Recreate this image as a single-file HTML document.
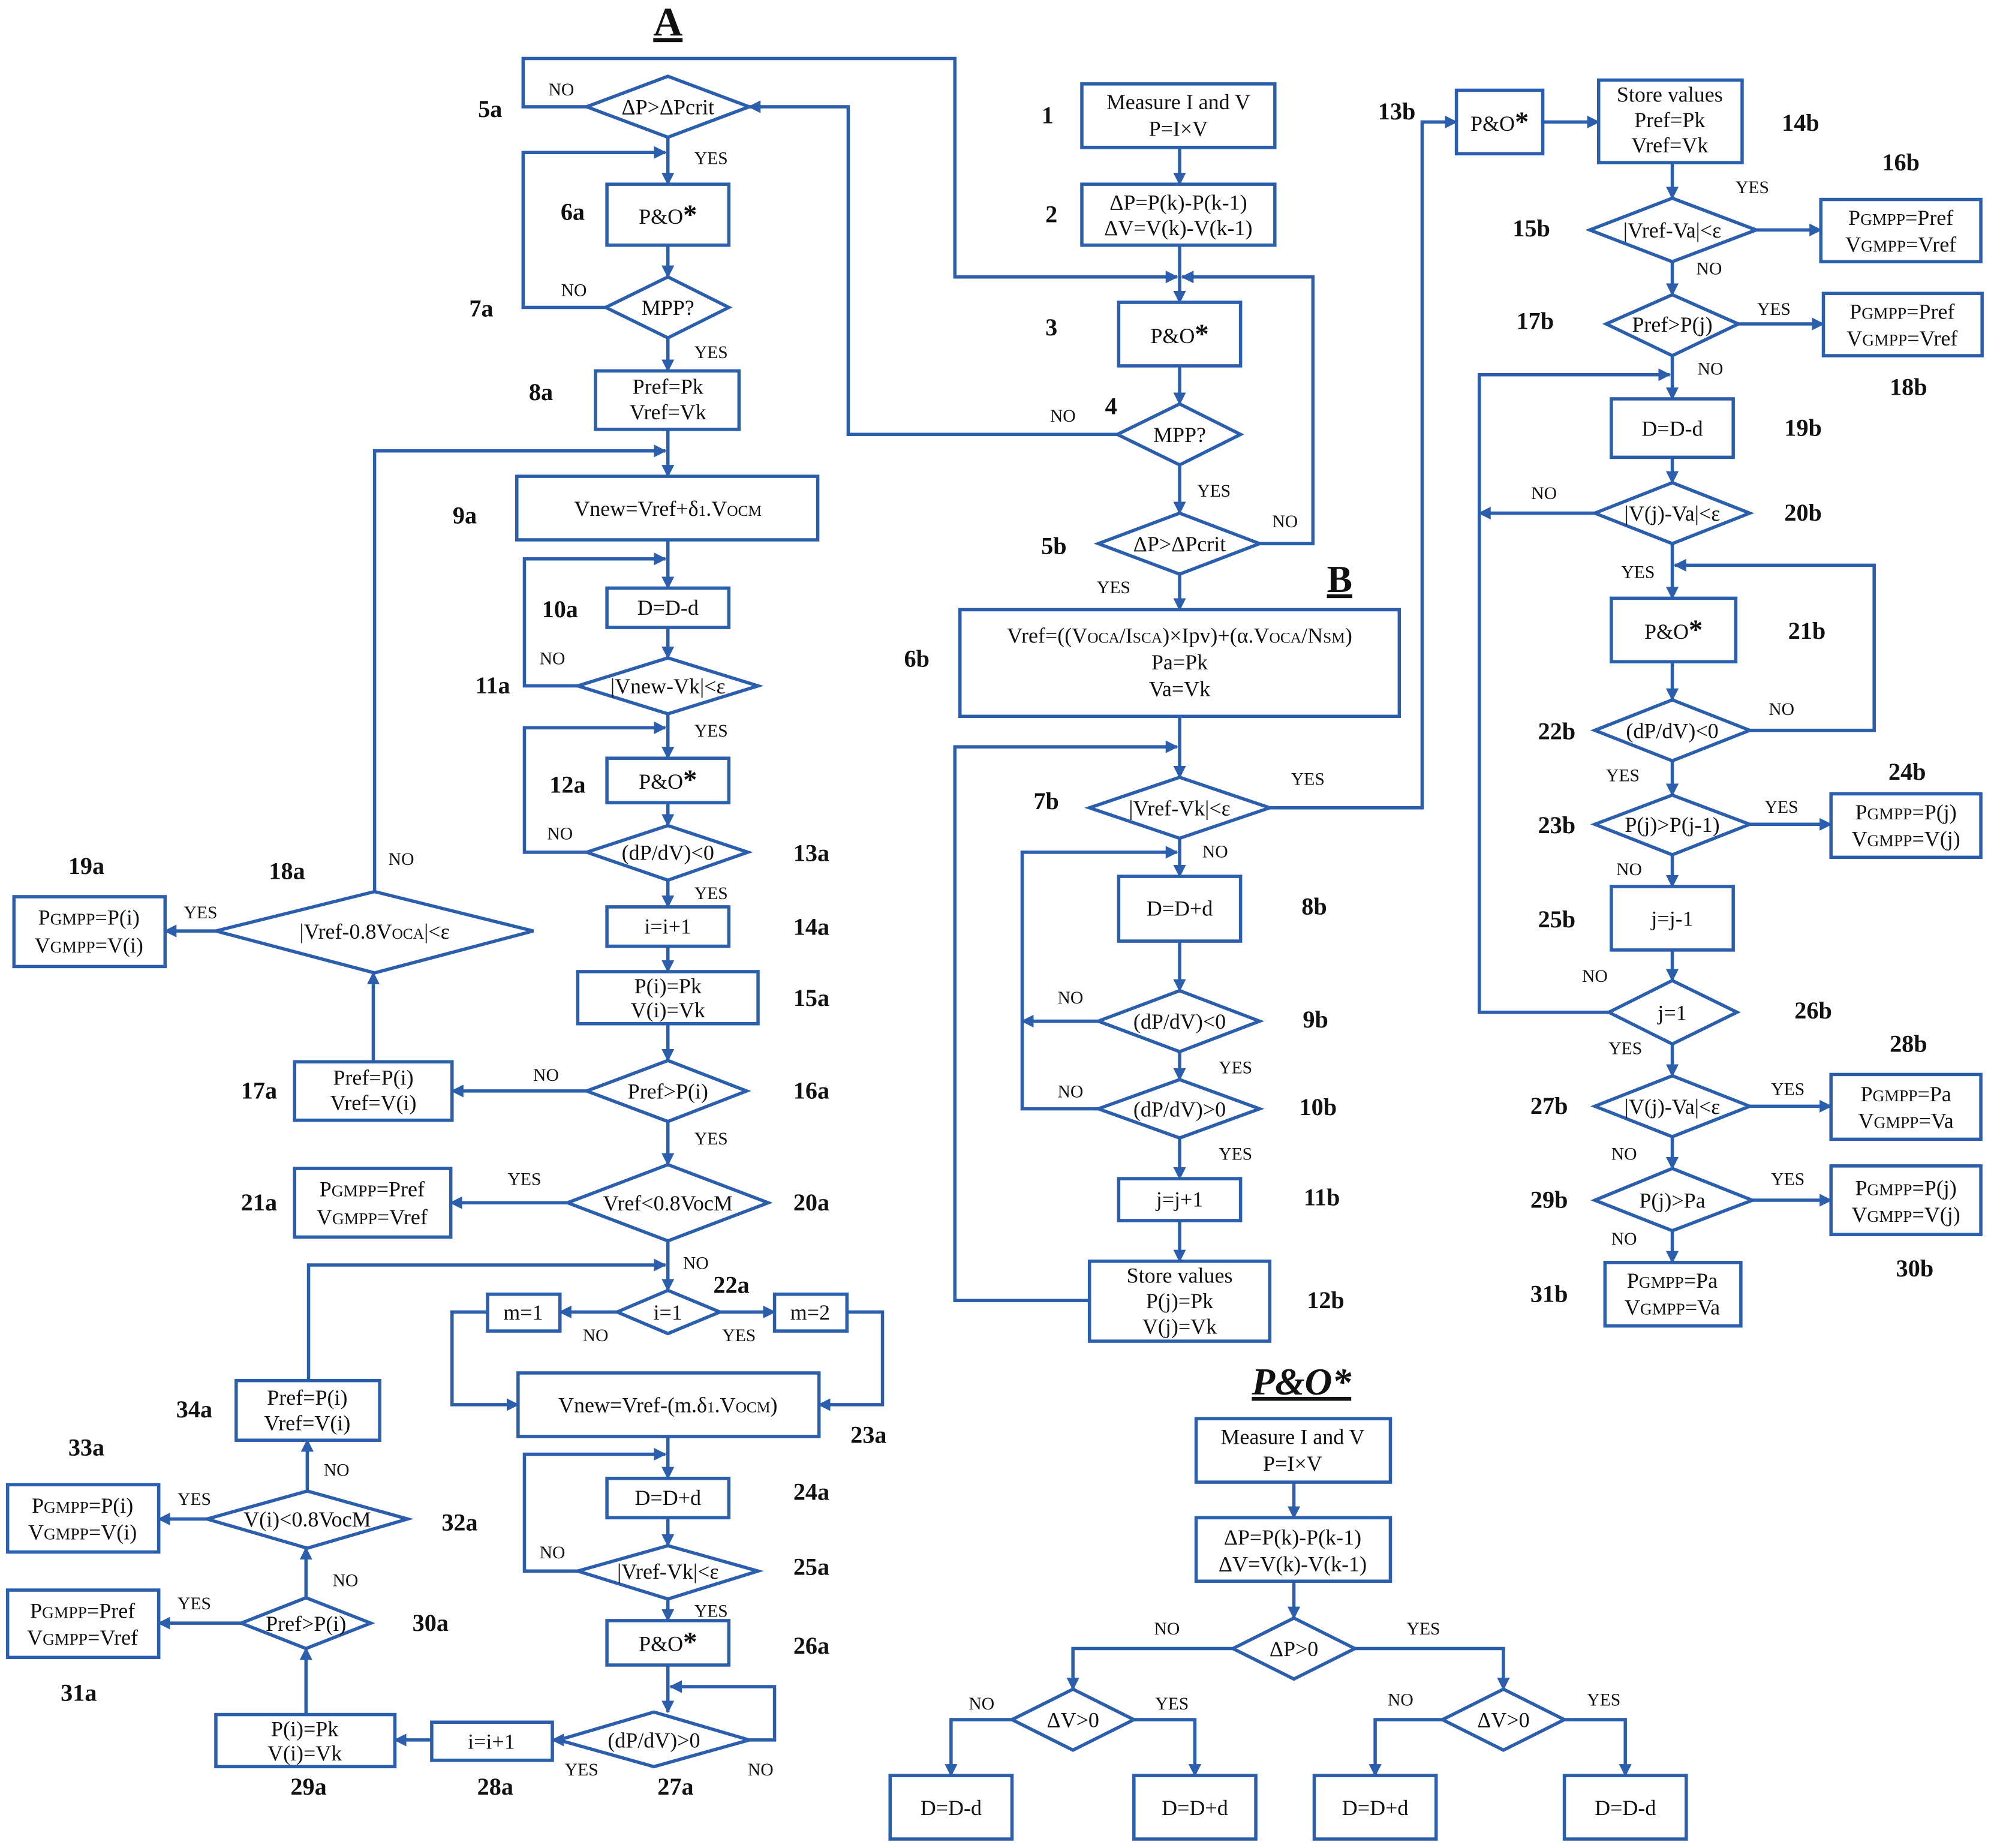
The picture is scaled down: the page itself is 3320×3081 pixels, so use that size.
<!DOCTYPE html>
<html><head><meta charset="utf-8"><style>
html,body{margin:0;padding:0;background:#fff}
svg{display:block}
.b{fill:#fff;stroke:#2b5fad;stroke-width:2.6}
.l{fill:none;stroke:#2b5fad;stroke-width:2.6;marker-end:url(#ar)}
.n{fill:none;stroke:#2b5fad;stroke-width:2.6}
text{font-family:"Liberation Serif",serif;fill:#111}
.t{font-size:17px;text-anchor:middle}
.y{font-size:14px;text-anchor:middle}
.g{font-size:19px;font-weight:bold;text-anchor:middle}
</style></head><body>
<svg width="3320" height="3081" viewBox="0 0 1568 1455" xmlns="http://www.w3.org/2000/svg">
<defs><marker id="ar" markerWidth="10" markerHeight="10" refX="9" refY="5" orient="auto" markerUnits="userSpaceOnUse"><path d="M0,0 L10,5 L0,10 z" fill="#2b5fad"/></marker></defs>

<!-- titles -->
<text x="526" y="28" style="font-size:32px;font-weight:bold;text-decoration:underline" text-anchor="middle">A</text>
<text x="1055" y="466" style="font-size:30px;font-weight:bold;text-decoration:underline" text-anchor="middle">B</text>
<text x="1025" y="1098" style="font-size:30px;font-weight:bold;font-style:italic;text-decoration:underline" text-anchor="middle">P&amp;O*</text>

<!-- ===== connectors A ===== -->
<polyline class="l" points="462,84 412,84 412,46 752,46 752,218 927,218"/>
<polyline class="l" points="526,108 526,145"/>
<polyline class="l" points="477,242 412,242 412,120 524,120"/>
<polyline class="l" points="526,193 526,218"/>
<polyline class="l" points="526,266 526,292"/>
<polyline class="l" points="526,338 526,375"/>
<polyline class="l" points="295,702 295,355 524,355"/>
<polyline class="l" points="526,425 526,463"/>
<polyline class="l" points="455,540 413,540 413,440 524,440"/>
<polyline class="l" points="526,494 526,518"/>
<polyline class="l" points="526,562 526,597"/>
<polyline class="l" points="462,671 413,671 413,573 524,573"/>
<polyline class="l" points="526,632 526,650"/>
<polyline class="l" points="526,693 526,714"/>
<polyline class="l" points="526,745 526,765"/>
<polyline class="l" points="526,806 526,835"/>
<polyline class="l" points="462,859 356,859"/>
<polyline class="l" points="294,836 294,766"/>
<polyline class="l" points="170,733 130,733"/>
<polyline class="l" points="526,883 526,917"/>
<polyline class="l" points="447,947 355,947"/>
<polyline class="l" points="526,977 526,1016"/>
<polyline class="l" points="243,1087 243,996 524,996"/>
<polyline class="l" points="486,1033 441,1033"/>
<polyline class="l" points="567,1033 610,1033"/>
<polyline class="l" points="384,1033 356,1033 356,1106 408,1106"/>
<polyline class="l" points="667,1033 695,1033 695,1106 645,1106"/>
<polyline class="l" points="526,1131 526,1164"/>
<polyline class="l" points="455,1237 413,1237 413,1145 524,1145"/>
<polyline class="l" points="526,1195 526,1217"/>
<polyline class="l" points="526,1259 526,1276"/>
<polyline class="l" points="526,1311 526,1348"/>
<polyline class="l" points="590,1370 610,1370 610,1328 528,1328"/>
<polyline class="l" points="440,1370 435,1370"/>
<polyline class="l" points="340,1370 311,1370"/>
<polyline class="l" points="241,1350 241,1298"/>
<polyline class="l" points="190,1278 125,1278"/>
<polyline class="l" points="241,1258 241,1219"/>
<polyline class="l" points="163,1196 125,1196"/>
<polyline class="l" points="242,1174 242,1134"/>

<!-- ===== connectors middle ===== -->
<polyline class="l" points="929,116 929,145"/>
<polyline class="l" points="929,193 929,238"/>
<polyline class="l" points="929,288 929,318"/>
<polyline class="l" points="880,342 668,342 668,84 590,84"/>
<polyline class="l" points="929,366 929,404"/>
<polyline class="l" points="992,428 1034,428 1034,218 931,218"/>
<polyline class="l" points="929,452 929,480"/>
<polyline class="l" points="929,564 929,612"/>
<polyline class="l" points="858,1024 752,1024 752,588 927,588"/>
<polyline class="l" points="1000,636 1120,636 1120,96 1147,96"/>
<polyline class="l" points="929,660 929,690"/>
<polyline class="l" points="865,873 805,873 805,671 927,671"/>
<polyline class="l" points="929,741 929,780"/>
<polyline class="l" points="865,804 805,804"/>
<polyline class="l" points="929,828 929,850"/>
<polyline class="l" points="929,896 929,928"/>
<polyline class="l" points="929,961 929,993"/>

<!-- ===== connectors right ===== -->
<polyline class="l" points="1215,96 1259,96"/>
<polyline class="l" points="1317,128 1317,156"/>
<polyline class="l" points="1383,181 1434,181"/>
<polyline class="l" points="1317,206 1317,232"/>
<polyline class="l" points="1369,255 1436,255"/>
<polyline class="l" points="1317,280 1317,314"/>
<polyline class="l" points="1267,797 1165,797 1165,295 1315,295"/>
<polyline class="l" points="1317,360 1317,380"/>
<polyline class="l" points="1256,404 1165,404"/>
<polyline class="l" points="1317,428 1317,471"/>
<polyline class="l" points="1378,575 1476,575 1476,445 1319,445"/>
<polyline class="l" points="1317,521 1317,551"/>
<polyline class="l" points="1317,599 1317,626"/>
<polyline class="l" points="1378,649 1442,649"/>
<polyline class="l" points="1317,673 1317,698"/>
<polyline class="l" points="1317,748 1317,772"/>
<polyline class="l" points="1317,822 1317,847"/>
<polyline class="l" points="1378,871 1442,871"/>
<polyline class="l" points="1317,895 1317,920"/>
<polyline class="l" points="1380,945 1442,945"/>
<polyline class="l" points="1317,969 1317,994"/>

<!-- ===== P&O* connectors ===== -->
<polyline class="l" points="1019,1167 1019,1195"/>
<polyline class="l" points="1019,1245 1019,1274"/>
<polyline class="l" points="971,1298 845,1298 845,1330"/>
<polyline class="l" points="1067,1298 1184,1298 1184,1330"/>
<polyline class="l" points="797,1354 749,1354 749,1398"/>
<polyline class="l" points="893,1354 941,1354 941,1398"/>
<polyline class="l" points="1136,1354 1083,1354 1083,1398"/>
<polyline class="l" points="1232,1354 1280,1354 1280,1398"/>

<!-- ===== shapes A ===== -->
<polygon class="b" points="462,84 526,60 590,84 526,108"/>
<text class="t" x="526" y="90">ΔP&gt;ΔPcrit</text>
<rect class="b" x="478" y="145" width="96" height="48"/>
<text class="t" x="526" y="176">P&amp;O<tspan style="font-size:22px;font-weight:bold">*</tspan></text>
<polygon class="b" points="477,242 526,218 574,242 526,266"/>
<text class="t" x="526" y="248">MPP?</text>
<rect class="b" x="469" y="292" width="113" height="46"/>
<text class="t" x="526" y="310">Pref=Pk</text><text class="t" x="526" y="330">Vref=Vk</text>
<rect class="b" x="407" y="375" width="237" height="50"/>
<text class="t" x="526" y="406">Vnew=Vref+δ<tspan style="font-size:12px">1</tspan>.V<tspan style="font-size:12px">OCM</tspan></text>
<rect class="b" x="478" y="463" width="96" height="31"/>
<text class="t" x="526" y="484">D=D-d</text>
<polygon class="b" points="455,540 526,518 597,540 526,562"/>
<text class="t" x="526" y="546">|Vnew-Vk|&lt;ε</text>
<rect class="b" x="478" y="597" width="96" height="35"/>
<text class="t" x="526" y="621">P&amp;O<tspan style="font-size:22px;font-weight:bold">*</tspan></text>
<polygon class="b" points="462,671 526,650 589,671 526,693"/>
<text class="t" x="526" y="677">(dP/dV)&lt;0</text>
<rect class="b" x="478" y="714" width="96" height="31"/>
<text class="t" x="526" y="735">i=i+1</text>
<rect class="b" x="455" y="765" width="142" height="41"/>
<text class="t" x="526" y="782">P(i)=Pk</text><text class="t" x="526" y="801">V(i)=Vk</text>
<polygon class="b" points="462,859 526,835 588,859 526,883"/>
<text class="t" x="526" y="865">Pref&gt;P(i)</text>
<polygon class="b" points="447,947 526,917 605,947 526,977"/>
<text class="t" x="526" y="953">Vref&lt;0.8VocM</text>
<polygon class="b" points="486,1033 526,1016 567,1033 526,1050"/>
<text class="t" x="526" y="1039">i=1</text>
<rect class="b" x="384" y="1019" width="57" height="29"/>
<text class="t" x="412" y="1039">m=1</text>
<rect class="b" x="610" y="1019" width="57" height="29"/>
<text class="t" x="638" y="1039">m=2</text>
<rect class="b" x="408" y="1081" width="237" height="50"/>
<text class="t" x="526" y="1112">Vnew=Vref-(m.δ<tspan style="font-size:12px">1</tspan>.V<tspan style="font-size:12px">OCM</tspan>)</text>
<rect class="b" x="478" y="1164" width="96" height="31"/>
<text class="t" x="526" y="1185">D=D+d</text>
<polygon class="b" points="455,1237 526,1217 597,1237 526,1259"/>
<text class="t" x="526" y="1243">|Vref-Vk|&lt;ε</text>
<rect class="b" x="478" y="1276" width="96" height="35"/>
<text class="t" x="526" y="1300">P&amp;O<tspan style="font-size:22px;font-weight:bold">*</tspan></text>
<polygon class="b" points="440,1370 515,1348 590,1370 515,1391"/>
<text class="t" x="515" y="1376">(dP/dV)&gt;0</text>
<rect class="b" x="340" y="1356" width="95" height="30"/>
<text class="t" x="387" y="1377">i=i+1</text>
<rect class="b" x="170" y="1350" width="141" height="41"/>
<text class="t" x="240" y="1367">P(i)=Pk</text><text class="t" x="240" y="1386">V(i)=Vk</text>
<polygon class="b" points="190,1278 241,1258 292,1278 241,1298"/>
<text class="t" x="241" y="1284">Pref&gt;P(i)</text>
<rect class="b" x="6" y="1252" width="119" height="53"/>
<text class="t" x="65" y="1274">P<tspan style="font-size:13px">GMPP</tspan>=Pref</text><text class="t" x="65" y="1295">V<tspan style="font-size:13px">GMPP</tspan>=Vref</text>
<polygon class="b" points="163,1196 242,1174 321,1196 242,1219"/>
<text class="t" x="242" y="1202">V(i)&lt;0.8VocM</text>
<rect class="b" x="6" y="1169" width="119" height="53"/>
<text class="t" x="65" y="1191">P<tspan style="font-size:13px">GMPP</tspan>=P(i)</text><text class="t" x="65" y="1212">V<tspan style="font-size:13px">GMPP</tspan>=V(i)</text>
<rect class="b" x="186" y="1087" width="113" height="47"/>
<text class="t" x="242" y="1106">Pref=P(i)</text><text class="t" x="242" y="1126">Vref=V(i)</text>
<rect class="b" x="232" y="836" width="124" height="46"/>
<text class="t" x="294" y="854">Pref=P(i)</text><text class="t" x="294" y="874">Vref=V(i)</text>
<polygon class="b" points="170,733 295,702 420,733 295,766"/>
<text class="t" x="295" y="739">|Vref-0.8V<tspan style="font-size:12px">OCA</tspan>|&lt;ε</text>
<rect class="b" x="11" y="706" width="119" height="55"/>
<text class="t" x="70" y="728">P<tspan style="font-size:13px">GMPP</tspan>=P(i)</text><text class="t" x="70" y="750">V<tspan style="font-size:13px">GMPP</tspan>=V(i)</text>
<rect class="b" x="232" y="920" width="123" height="54"/>
<text class="t" x="293" y="942">P<tspan style="font-size:13px">GMPP</tspan>=Pref</text><text class="t" x="293" y="964">V<tspan style="font-size:13px">GMPP</tspan>=Vref</text>

<!-- ===== shapes middle ===== -->
<rect class="b" x="852" y="66" width="152" height="50"/>
<text class="t" x="928" y="86">Measure I and V</text><text class="t" x="928" y="107">P=I×V</text>
<rect class="b" x="852" y="145" width="152" height="48"/>
<text class="t" x="928" y="165">ΔP=P(k)-P(k-1)</text><text class="t" x="928" y="185">ΔV=V(k)-V(k-1)</text>
<rect class="b" x="881" y="238" width="96" height="50"/>
<text class="t" x="929" y="270">P&amp;O<tspan style="font-size:22px;font-weight:bold">*</tspan></text>
<polygon class="b" points="880,342 929,318 977,342 929,366"/>
<text class="t" x="929" y="348">MPP?</text>
<polygon class="b" points="865,428 929,404 992,428 929,452"/>
<text class="t" x="929" y="434">ΔP&gt;ΔPcrit</text>
<rect class="b" x="756" y="480" width="346" height="84"/>
<text class="t" x="929" y="506">Vref=((V<tspan style="font-size:12px">OCA</tspan>/I<tspan style="font-size:12px">SCA</tspan>)×Ipv)+(α.V<tspan style="font-size:12px">OCA</tspan>/N<tspan style="font-size:12px">SM</tspan>)</text>
<text class="t" x="929" y="527">Pa=Pk</text><text class="t" x="929" y="548">Va=Vk</text>
<polygon class="b" points="858,636 929,612 1000,636 929,660"/>
<text class="t" x="929" y="642">|Vref-Vk|&lt;ε</text>
<rect class="b" x="881" y="690" width="96" height="51"/>
<text class="t" x="929" y="721">D=D+d</text>
<polygon class="b" points="865,804 929,780 992,804 929,828"/>
<text class="t" x="929" y="810">(dP/dV)&lt;0</text>
<polygon class="b" points="865,873 929,850 992,873 929,896"/>
<text class="t" x="929" y="879">(dP/dV)&gt;0</text>
<rect class="b" x="881" y="928" width="96" height="33"/>
<text class="t" x="929" y="950">j=j+1</text>
<rect class="b" x="858" y="993" width="142" height="63"/>
<text class="t" x="929" y="1010">Store values</text><text class="t" x="929" y="1030">P(j)=Pk</text><text class="t" x="929" y="1050">V(j)=Vk</text>

<!-- ===== shapes right ===== -->
<rect class="b" x="1147" y="71" width="68" height="50"/>
<text class="t" x="1181" y="103">P&amp;O<tspan style="font-size:22px;font-weight:bold">*</tspan></text>
<rect class="b" x="1259" y="63" width="113" height="65"/>
<text class="t" x="1315" y="80">Store values</text><text class="t" x="1315" y="100">Pref=Pk</text><text class="t" x="1315" y="120">Vref=Vk</text>
<polygon class="b" points="1252,181 1317,156 1383,181 1317,206"/>
<text class="t" x="1317" y="187">|Vref-Va|&lt;ε</text>
<rect class="b" x="1434" y="157" width="126" height="49"/>
<text class="t" x="1497" y="177">P<tspan style="font-size:13px">GMPP</tspan>=Pref</text><text class="t" x="1497" y="198">V<tspan style="font-size:13px">GMPP</tspan>=Vref</text>
<polygon class="b" points="1265,255 1317,232 1369,255 1317,280"/>
<text class="t" x="1317" y="261">Pref&gt;P(j)</text>
<rect class="b" x="1436" y="231" width="125" height="49"/>
<text class="t" x="1498" y="251">P<tspan style="font-size:13px">GMPP</tspan>=Pref</text><text class="t" x="1498" y="272">V<tspan style="font-size:13px">GMPP</tspan>=Vref</text>
<rect class="b" x="1269" y="314" width="96" height="46"/>
<text class="t" x="1317" y="343">D=D-d</text>
<polygon class="b" points="1256,404 1317,380 1378,404 1317,428"/>
<text class="t" x="1317" y="410">|V(j)-Va|&lt;ε</text>
<rect class="b" x="1269" y="471" width="98" height="50"/>
<text class="t" x="1318" y="503">P&amp;O<tspan style="font-size:22px;font-weight:bold">*</tspan></text>
<polygon class="b" points="1256,575 1317,551 1378,575 1317,599"/>
<text class="t" x="1317" y="581">(dP/dV)&lt;0</text>
<polygon class="b" points="1256,649 1317,626 1378,649 1317,673"/>
<text class="t" x="1317" y="655">P(j)&gt;P(j-1)</text>
<rect class="b" x="1442" y="625" width="118" height="50"/>
<text class="t" x="1501" y="645">P<tspan style="font-size:13px">GMPP</tspan>=P(j)</text><text class="t" x="1501" y="666">V<tspan style="font-size:13px">GMPP</tspan>=V(j)</text>
<rect class="b" x="1269" y="698" width="96" height="50"/>
<text class="t" x="1317" y="729">j=j-1</text>
<polygon class="b" points="1267,797 1317,772 1368,797 1317,822"/>
<text class="t" x="1317" y="803">j=1</text>
<polygon class="b" points="1256,871 1317,847 1378,871 1317,895"/>
<text class="t" x="1317" y="877">|V(j)-Va|&lt;ε</text>
<rect class="b" x="1442" y="846" width="118" height="51"/>
<text class="t" x="1501" y="867">P<tspan style="font-size:13px">GMPP</tspan>=Pa</text><text class="t" x="1501" y="888">V<tspan style="font-size:13px">GMPP</tspan>=Va</text>
<polygon class="b" points="1256,945 1317,920 1380,945 1317,969"/>
<text class="t" x="1317" y="951">P(j)&gt;Pa</text>
<rect class="b" x="1442" y="918" width="118" height="54"/>
<text class="t" x="1501" y="941">P<tspan style="font-size:13px">GMPP</tspan>=P(j)</text><text class="t" x="1501" y="962">V<tspan style="font-size:13px">GMPP</tspan>=V(j)</text>
<rect class="b" x="1264" y="994" width="107" height="50"/>
<text class="t" x="1317" y="1014">P<tspan style="font-size:13px">GMPP</tspan>=Pa</text><text class="t" x="1317" y="1035">V<tspan style="font-size:13px">GMPP</tspan>=Va</text>

<!-- ===== P&O* shapes ===== -->
<rect class="b" x="942" y="1117" width="153" height="50"/>
<text class="t" x="1018" y="1137">Measure I and V</text><text class="t" x="1018" y="1158">P=I×V</text>
<rect class="b" x="942" y="1195" width="153" height="50"/>
<text class="t" x="1018" y="1216">ΔP=P(k)-P(k-1)</text><text class="t" x="1018" y="1237">ΔV=V(k)-V(k-1)</text>
<polygon class="b" points="971,1298 1019,1274 1067,1298 1019,1322"/>
<text class="t" x="1019" y="1304">ΔP&gt;0</text>
<polygon class="b" points="797,1354 845,1330 893,1354 845,1378"/>
<text class="t" x="845" y="1360">ΔV&gt;0</text>
<polygon class="b" points="1136,1354 1184,1330 1232,1354 1184,1378"/>
<text class="t" x="1184" y="1360">ΔV&gt;0</text>
<rect class="b" x="701" y="1398" width="96" height="50"/><text class="t" x="749" y="1429">D=D-d</text>
<rect class="b" x="893" y="1398" width="96" height="50"/><text class="t" x="941" y="1429">D=D+d</text>
<rect class="b" x="1035" y="1398" width="96" height="50"/><text class="t" x="1083" y="1429">D=D+d</text>
<rect class="b" x="1232" y="1398" width="96" height="50"/><text class="t" x="1280" y="1429">D=D-d</text>

<!-- ===== YES/NO ===== -->
<g class="y">
<text class="y" x="442" y="75">NO</text>
<text class="y" x="560" y="129">YES</text>
<text class="y" x="452" y="233">NO</text>
<text class="y" x="560" y="282">YES</text>
<text class="y" x="435" y="523">NO</text>
<text class="y" x="560" y="580">YES</text>
<text class="y" x="441" y="661">NO</text>
<text class="y" x="560" y="708">YES</text>
<text class="y" x="430" y="851">NO</text>
<text class="y" x="316" y="681">NO</text>
<text class="y" x="158" y="723">YES</text>
<text class="y" x="560" y="901">YES</text>
<text class="y" x="413" y="933">YES</text>
<text class="y" x="548" y="999">NO</text>
<text class="y" x="469" y="1056">NO</text>
<text class="y" x="582" y="1056">YES</text>
<text class="y" x="435" y="1227">NO</text>
<text class="y" x="560" y="1273">YES</text>
<text class="y" x="599" y="1398">NO</text>
<text class="y" x="458" y="1398">YES</text>
<text class="y" x="153" y="1267">YES</text>
<text class="y" x="272" y="1249">NO</text>
<text class="y" x="153" y="1185">YES</text>
<text class="y" x="265" y="1162">NO</text>
<text class="y" x="837" y="332">NO</text>
<text class="y" x="956" y="391">YES</text>
<text class="y" x="1012" y="415">NO</text>
<text class="y" x="877" y="467">YES</text>
<text class="y" x="1030" y="618">YES</text>
<text class="y" x="957" y="675">NO</text>
<text class="y" x="843" y="790">NO</text>
<text class="y" x="973" y="845">YES</text>
<text class="y" x="843" y="864">NO</text>
<text class="y" x="973" y="913">YES</text>
<text class="y" x="1380" y="152">YES</text>
<text class="y" x="1346" y="216">NO</text>
<text class="y" x="1397" y="248">YES</text>
<text class="y" x="1347" y="295">NO</text>
<text class="y" x="1216" y="393">NO</text>
<text class="y" x="1290" y="455">YES</text>
<text class="y" x="1403" y="563">NO</text>
<text class="y" x="1278" y="615">YES</text>
<text class="y" x="1403" y="640">YES</text>
<text class="y" x="1283" y="689">NO</text>
<text class="y" x="1256" y="773">NO</text>
<text class="y" x="1280" y="830">YES</text>
<text class="y" x="1408" y="862">YES</text>
<text class="y" x="1279" y="913">NO</text>
<text class="y" x="1408" y="933">YES</text>
<text class="y" x="1279" y="980">NO</text>
<text class="y" x="919" y="1287">NO</text>
<text class="y" x="1121" y="1287">YES</text>
<text class="y" x="773" y="1346">NO</text>
<text class="y" x="923" y="1346">YES</text>
<text class="y" x="1103" y="1343">NO</text>
<text class="y" x="1263" y="1343">YES</text>
</g>

<!-- ===== step labels ===== -->
<g>
<text class="g" x="386" y="92">5a</text>
<text class="g" x="451" y="173">6a</text>
<text class="g" x="379" y="249">7a</text>
<text class="g" x="426" y="315">8a</text>
<text class="g" x="366" y="412">9a</text>
<text class="g" x="441" y="486">10a</text>
<text class="g" x="388" y="546">11a</text>
<text class="g" x="447" y="624">12a</text>
<text class="g" x="639" y="678">13a</text>
<text class="g" x="639" y="736">14a</text>
<text class="g" x="639" y="792">15a</text>
<text class="g" x="639" y="865">16a</text>
<text class="g" x="204" y="865">17a</text>
<text class="g" x="226" y="692">18a</text>
<text class="g" x="68" y="688">19a</text>
<text class="g" x="639" y="953">20a</text>
<text class="g" x="204" y="953">21a</text>
<text class="g" x="576" y="1018">22a</text>
<text class="g" x="684" y="1136">23a</text>
<text class="g" x="639" y="1181">24a</text>
<text class="g" x="639" y="1240">25a</text>
<text class="g" x="639" y="1302">26a</text>
<text class="g" x="532" y="1413">27a</text>
<text class="g" x="390" y="1413">28a</text>
<text class="g" x="243" y="1413">29a</text>
<text class="g" x="339" y="1284">30a</text>
<text class="g" x="62" y="1339">31a</text>
<text class="g" x="362" y="1205">32a</text>
<text class="g" x="68" y="1146">33a</text>
<text class="g" x="153" y="1116">34a</text>
<text class="g" x="825" y="97">1</text>
<text class="g" x="828" y="175">2</text>
<text class="g" x="828" y="264">3</text>
<text class="g" x="875" y="326">4</text>
<text class="g" x="830" y="436">5b</text>
<text class="g" x="722" y="525">6b</text>
<text class="g" x="824" y="637">7b</text>
<text class="g" x="1035" y="720">8b</text>
<text class="g" x="1036" y="809">9b</text>
<text class="g" x="1038" y="878">10b</text>
<text class="g" x="1041" y="949">11b</text>
<text class="g" x="1044" y="1030">12b</text>
<text class="g" x="1100" y="94">13b</text>
<text class="g" x="1418" y="103">14b</text>
<text class="g" x="1206" y="186">15b</text>
<text class="g" x="1497" y="134">16b</text>
<text class="g" x="1209" y="259">17b</text>
<text class="g" x="1503" y="311">18b</text>
<text class="g" x="1420" y="343">19b</text>
<text class="g" x="1420" y="410">20b</text>
<text class="g" x="1423" y="503">21b</text>
<text class="g" x="1226" y="582">22b</text>
<text class="g" x="1226" y="656">23b</text>
<text class="g" x="1502" y="614">24b</text>
<text class="g" x="1226" y="730">25b</text>
<text class="g" x="1428" y="802">26b</text>
<text class="g" x="1220" y="877">27b</text>
<text class="g" x="1503" y="828">28b</text>
<text class="g" x="1220" y="951">29b</text>
<text class="g" x="1508" y="1005">30b</text>
<text class="g" x="1220" y="1025">31b</text>
</g>
</svg>
</body></html>
